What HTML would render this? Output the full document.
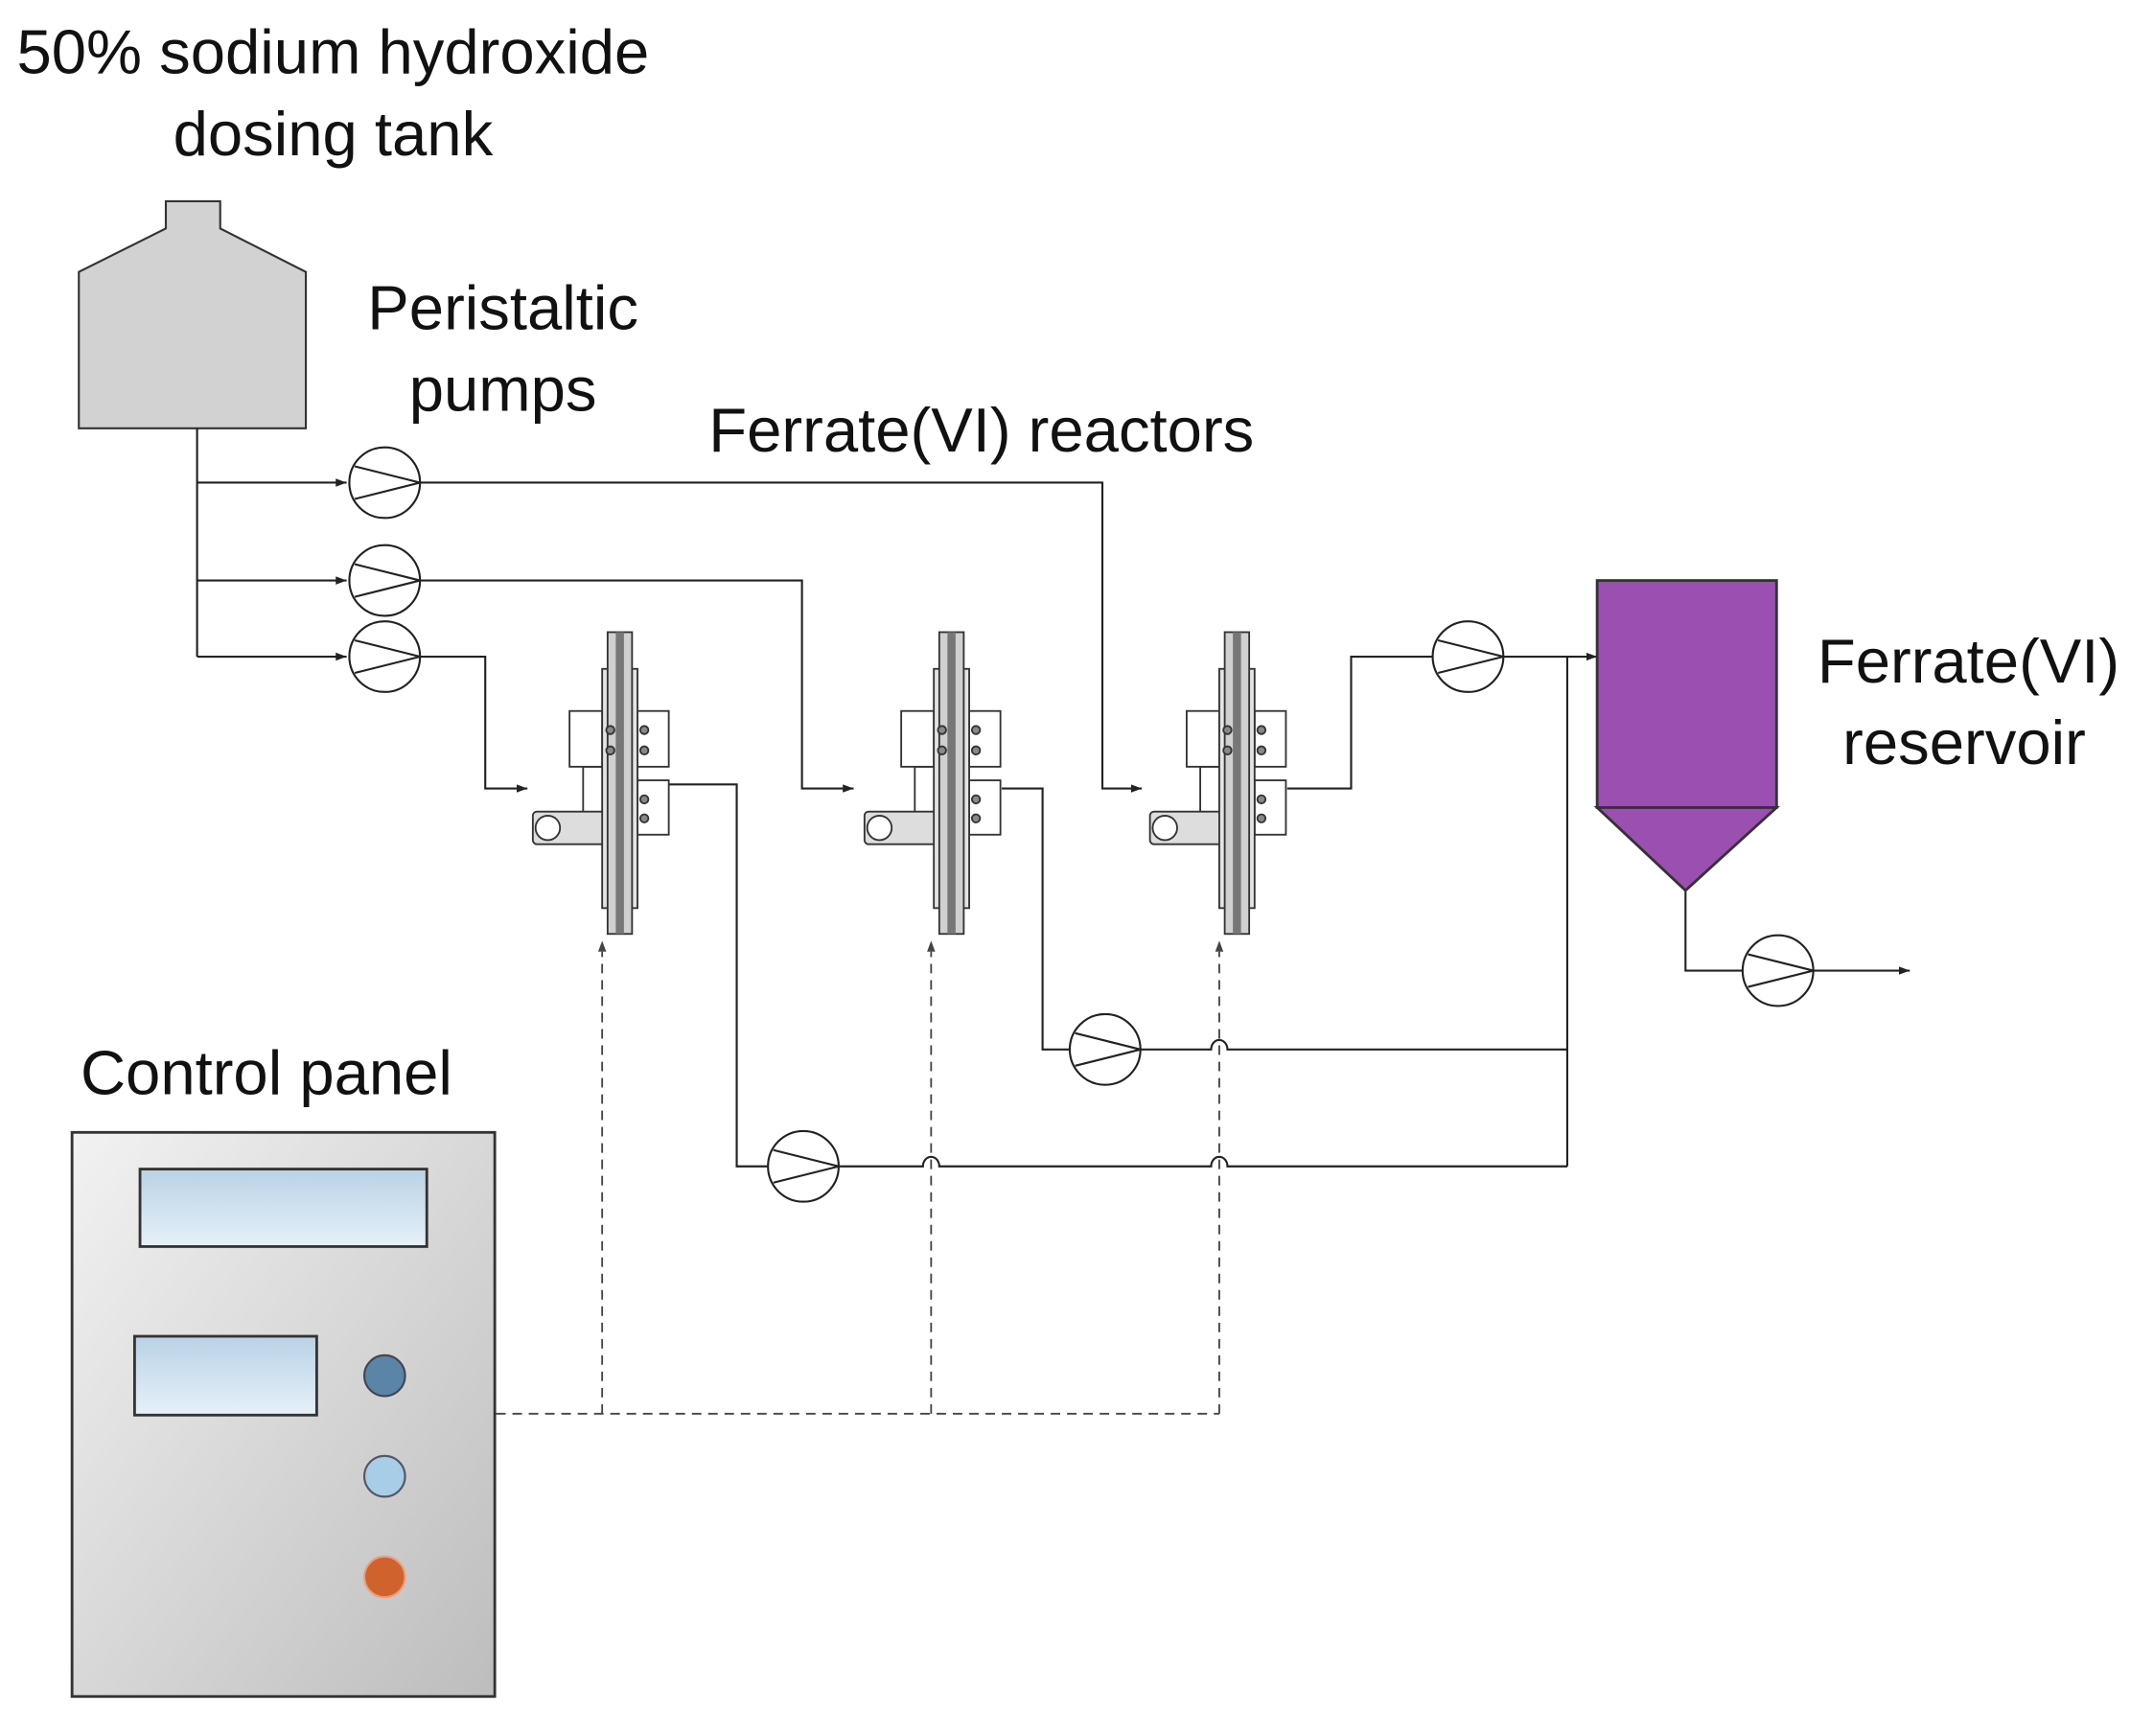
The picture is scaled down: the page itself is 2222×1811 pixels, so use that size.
<!DOCTYPE html>
<html><head><meta charset="utf-8"><style>html,body{margin:0;padding:0;background:#fff}svg{display:block}</style></head>
<body>
<svg width="2222" height="1811" viewBox="0 0 1567 1277" xmlns="http://www.w3.org/2000/svg" font-family="Liberation Sans, sans-serif">
<defs>
<marker id="a" markerWidth="8" markerHeight="6" refX="8" refY="3" orient="auto" markerUnits="userSpaceOnUse"><path d="M0,0 L8,3 L0,6z" fill="#222"/></marker>
<linearGradient id="cp" x1="0" y1="0" x2="1" y2="1"><stop offset="0" stop-color="#f2f2f2"/><stop offset="1" stop-color="#bdbdbd"/></linearGradient>
<linearGradient id="sc" x1="0" y1="0" x2="0" y2="1"><stop offset="0" stop-color="#b9d2e6"/><stop offset="1" stop-color="#e6f0f8"/></linearGradient>
<g id="pump"><circle r="26" fill="#fff" stroke="#222" stroke-width="1.5"/><path d="M-22,-12 L26,0 L-22,12" fill="none" stroke="#222" stroke-width="1.5"/></g>
<g id="reac" stroke="#333" stroke-width="1.3">
<rect x="-27" y="564" width="23" height="40" fill="#fff"/>
<rect x="-64" y="597" width="60" height="24" rx="3" fill="#ddd"/>
<circle cx="-53" cy="609" r="9" fill="#fff"/>
<rect x="-37" y="523" width="24" height="41" fill="#fff"/>
<rect x="13" y="523" width="23" height="41" fill="#fff"/>
<rect x="13" y="574" width="23" height="40" fill="#fff"/>
<rect x="-13" y="492" width="26" height="176" fill="#e4e4e4"/>
<rect x="-9" y="465" width="18" height="222" fill="#d0d0d0"/>
<rect x="-3" y="465" width="6" height="222" fill="#777" stroke="none"/>
<circle cx="-7" cy="537" r="3" fill="#888"/><circle cx="-7" cy="552" r="3" fill="#888"/>
<circle cx="18" cy="537" r="3" fill="#888"/><circle cx="18" cy="552" r="3" fill="#888"/>
<circle cx="18" cy="588" r="3" fill="#888"/><circle cx="18" cy="602" r="3" fill="#888"/>
</g>
</defs>
<g font-size="46" fill="#111">
<text x="245" y="54" text-anchor="middle">50% sodium hydroxide</text>
<text x="245" y="114" text-anchor="middle">dosing tank</text>
<text x="370" y="242" text-anchor="middle">Peristaltic</text>
<text x="370" y="302" text-anchor="middle">pumps</text>
<text x="722" y="332" text-anchor="middle">Ferrate(VI) reactors</text>
<text x="1337" y="502">Ferrate(VI)</text>
<text x="1445" y="562" text-anchor="middle">reservoir</text>
<text x="196" y="805" text-anchor="middle">Control panel</text>
</g>
<path d="M58,315 L58,200 L122,168 L122,148 L162,148 L162,168 L225,200 L225,315 Z" fill="#d2d2d2" stroke="#333" stroke-width="1.5"/>
<g fill="none" stroke="#222" stroke-width="1.5">
<path d="M145,315 V483"/>
<path d="M145,355 H255" marker-end="url(#a)"/>
<path d="M145,427 H255" marker-end="url(#a)"/>
<path d="M145,483 H255" marker-end="url(#a)"/>
<path d="M309,355 H811 V580 H840" marker-end="url(#a)"/>
<path d="M309,427 H590 V580 H628" marker-end="url(#a)"/>
<path d="M309,483 H357 V580 H388" marker-end="url(#a)"/>
<path d="M492,577 H542 V858 H565"/>
<path d="M617,858 H679 a6,7 0 0 1 12,0 H891 a6,7 0 0 1 12,0 H1153"/>
<path d="M737,580 H767 V772 H787"/>
<path d="M839,772 H891 a6,7 0 0 1 12,0 H1153"/>
<path d="M1153,858 V483"/>
<path d="M1106,483 H1175" marker-end="url(#a)"/>
<path d="M947,580 H994 V483 H1054"/>
<path d="M1240,655 V714 H1282"/>
<path d="M1334,714 H1405" marker-end="url(#a)"/>
</g>
<use href="#reac" x="456" y="0"/>
<use href="#reac" x="700" y="0"/>
<use href="#reac" x="910" y="0"/>
<use href="#pump" x="283" y="355"/>
<use href="#pump" x="283" y="427"/>
<use href="#pump" x="283" y="483"/>
<use href="#pump" x="591" y="858"/>
<use href="#pump" x="813" y="772"/>
<use href="#pump" x="1080" y="483"/>
<use href="#pump" x="1308" y="714"/>
<rect x="1175" y="427" width="132" height="167" fill="#9b4fb0" stroke="#333" stroke-width="2"/>
<path d="M1175,594 L1307,594 L1240,655 Z" fill="#9b4fb0" stroke="#333" stroke-width="2"/>
<g fill="none" stroke="#444" stroke-width="1.3" stroke-dasharray="7,5">
<path d="M365,1040 H897"/>
<path d="M443,1040 V700"/><path d="M685,1040 V700"/><path d="M897,1040 V700"/>
</g>
<path d="M440,700 L443,692 L446,700Z M682,700 L685,692 L688,700Z M894,700 L897,692 L900,700Z" fill="#444"/>
<rect x="53" y="833" width="311" height="415" fill="url(#cp)" stroke="#333" stroke-width="2"/>
<rect x="103" y="860" width="211" height="57" fill="url(#sc)" stroke="#333" stroke-width="2"/>
<rect x="99" y="983" width="134" height="58" fill="url(#sc)" stroke="#333" stroke-width="2"/>
<circle cx="283" cy="1012" r="15" fill="#5a85a6" stroke="#445" stroke-width="1.5"/>
<circle cx="283" cy="1086" r="15" fill="#a8cde6" stroke="#556" stroke-width="1.5"/>
<circle cx="283" cy="1160" r="15" fill="#d0622e" stroke="#e9a080" stroke-width="1.5"/>
</svg>
</body></html>
